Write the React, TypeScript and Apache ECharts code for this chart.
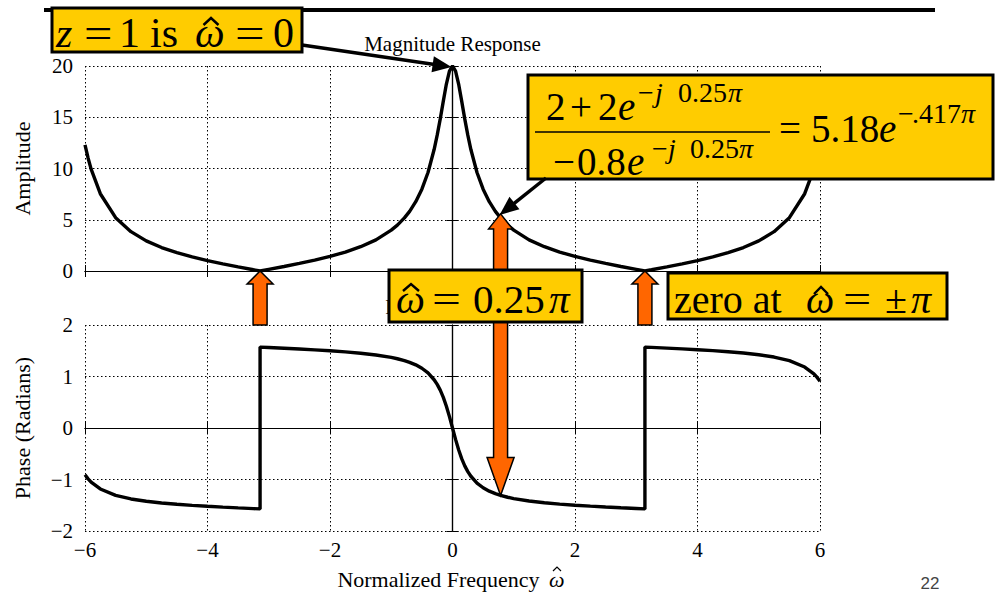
import React, { useEffect, useRef } from 'react';
import * as echarts from 'echarts';

// Frequency response of H(z) = (2 + 2z^-1) / (1 - 0.8z^-1), sampled over -6 .. 6 rad.
// The jump at +/-pi is written as two samples at the same frequency.
const freq = [
  -6, -5.95, -5.9, -5.75, -5.5, -5.25, -5, -4.75, -4.5, -4.25, -4, -3.75, -3.5, -3.25,
  -3.1416, -3.1416,
  -3, -2.75, -2.5, -2.25, -2, -1.75, -1.5, -1.25, -1, -0.9, -0.785, -0.7, -0.6, -0.5,
  -0.4, -0.3, -0.25, -0.2, -0.15, -0.1, -0.05,
  0,
  0.05, 0.1, 0.15, 0.2, 0.25, 0.3, 0.4, 0.5, 0.6, 0.7, 0.785, 0.9, 1, 1.25, 1.5, 1.75,
  2, 2.25, 2.5, 2.75, 3,
  3.1416, 3.1416,
  3.25, 3.5, 3.75, 4, 4.25, 4.5, 4.75, 5, 5.25, 5.5, 5.75, 5.9, 5.95, 6,
];

const amplitude = [
  12.3, 11.03, 9.94, 7.54, 5.2, 3.84, 2.94, 2.29, 1.79, 1.37, 1.02, 0.7, 0.4, 0.12,
  0, 0,
  0.16, 0.44, 0.74, 1.06, 1.42, 1.85, 2.37, 3.04, 3.99, 4.48, 5.18, 5.82, 6.76, 7.98,
  9.61, 11.85, 13.25, 14.84, 16.57, 18.24, 19.51,
  20,
  19.51, 18.24, 16.57, 14.84, 13.25, 11.85, 9.61, 7.98, 6.76, 5.82, 5.18, 4.48, 3.99, 3.04, 2.37, 1.85,
  1.42, 1.06, 0.74, 0.44, 0.16,
  0, 0,
  0.12, 0.4, 0.7, 1.02, 1.37, 1.79, 2.29, 2.94, 3.84, 5.2, 7.54, 9.94, 11.03, 12.3,
];

const phase = [
  -0.909, -0.987, -1.051, -1.184, -1.308, -1.378, -1.423, -1.456, -1.481, -1.502, -1.52, -1.536, -1.551, -1.565,
  -1.571, 1.571,
  1.563, 1.549, 1.534, 1.518, 1.5, 1.478, 1.452, 1.418, 1.37, 1.345, 1.309, 1.275, 1.226, 1.16,
  1.069, 0.937, 0.847, 0.735, 0.595, 0.423, 0.221,
  0,
  -0.221, -0.423, -0.595, -0.735, -0.847, -0.937, -1.069, -1.16, -1.226, -1.275, -1.309, -1.345, -1.37, -1.418, -1.452, -1.478,
  -1.5, -1.518, -1.534, -1.549, -1.563,
  -1.571, 1.571,
  1.565, 1.551, 1.536, 1.52, 1.502, 1.481, 1.456, 1.423, 1.378, 1.308, 1.184, 1.051, 0.987, 0.909,
];

const freqTicks = [-6, -4, -2, 0, 2, 4, 6];
const ampTicks = [0, 5, 10, 15, 20];
const phaseTicks = [-2, -1, 0, 1, 2];

// Evaluated point at w = 0.25*pi: 5.18 e^{-j 0.417 pi}
const markFreq = 0.785;
const markAmp = 5.18;
const markPhase = -1.309;
// Zeros of the numerator at w = +/- pi
const zeroFreqs = [-3.1416, 3.1416];

const SERIF = '"Liberation Serif", "Times New Roman", serif';
const ORANGE = '#FF6600';
const GOLD = '#FFCC00';

const fmtNum = (v: number) => (v < 0 ? '\u2212' + Math.abs(v) : String(v));

function range(ticks: number[]) {
  return { min: ticks[0], max: ticks[ticks.length - 1], interval: ticks[1] - ticks[0] };
}

function frameAxes(gridIndex: number, kind: 'x' | 'y', ticks: number[], showLabels: boolean) {
  const r = range(ticks);
  const common = {
    gridIndex,
    type: 'value' as const,
    ...r,
    axisTick: { show: true, inside: true, length: 6, lineStyle: { color: '#000', width: 1 } },
  };
  const main = {
    ...common,
    position: kind === 'x' ? 'bottom' : 'left',
    axisLine: { show: true, lineStyle: { color: '#000', width: 1.2 } },
    axisLabel: {
      show: showLabels,
      formatter: fmtNum,
      fontFamily: SERIF,
      fontSize: 21,
      color: '#000',
      margin: kind === 'x' ? 8 : 12,
    },
    splitLine: { show: true, lineStyle: { color: '#000', width: 1, type: [1.5, 2.5] } },
  };
  const mirror = {
    ...common,
    position: kind === 'x' ? 'top' : 'right',
    axisLine: { show: true, lineStyle: { color: '#000', width: 1.2 } },
    axisLabel: { show: false },
    splitLine: { show: false },
  };
  return [main, mirror];
}

function blockArrowUp(tx: number, ty: number, tailY: number) {
  const hw = 13, sw = 7, hh = 13;
  return [
    [tx, ty], [tx + hw, ty + hh], [tx + sw, ty + hh], [tx + sw, tailY],
    [tx - sw, tailY], [tx - sw, ty + hh], [tx - hw, ty + hh],
  ];
}

function doubleArrow(tx: number, top: number, bottom: number) {
  const sw = 7;
  return [
    [tx, top], [tx + 12, top + 15], [tx + sw, top + 15], [tx + sw, bottom - 38],
    [tx + 13.5, bottom - 38], [tx, bottom], [tx - 13.5, bottom - 38], [tx - sw, bottom - 38],
    [tx - sw, top + 15], [tx - 12, top + 15],
  ];
}

function lineArrow(x1: number, y1: number, x2: number, y2: number, z: number) {
  const dx = x2 - x1, dy = y2 - y1;
  const L = Math.sqrt(dx * dx + dy * dy);
  const ux = dx / L, uy = dy / L;
  const headLen = 19, headW = 8;
  const bx = x2 - ux * headLen, by = y2 - uy * headLen;
  return [
    { type: 'line', z, shape: { x1, y1, x2: bx + ux * 2, y2: by + uy * 2 }, style: { stroke: '#000', lineWidth: 3.5 } },
    {
      type: 'polygon', z,
      shape: { points: [[x2, y2], [bx - uy * headW, by + ux * headW], [bx + uy * headW, by - ux * headW]] },
      style: { fill: '#000' },
    },
  ];
}

type Run = { t: string; x: number; base: number; size: number; it?: boolean; sx?: number };

// one text element per run, placed on a shared baseline
function runs(items: Run[], z: number) {
  return items.map((r) => {
    const y = r.base - 0.34 * r.size;
    return {
      type: 'text', x: r.x, y, z,
      ...(r.sx ? { scaleX: r.sx, originX: 0, originY: 0 } : {}),
      style: {
        text: r.t,
        fontFamily: SERIF,
        fontSize: r.size,
        fontStyle: r.it ? 'italic' : 'normal',
        fill: '#000',
        align: 'left', verticalAlign: 'middle',
        textAlign: 'left', textVerticalAlign: 'middle',
      },
    };
  });
}

function hat(cx: number, top: number, w: number, h: number, lw: number, z: number) {
  return {
    type: 'polyline', z,
    shape: { points: [[cx - w / 2, top + h], [cx, top], [cx + w / 2, top + h]] },
    style: { stroke: '#000', lineWidth: lw, fill: 'none', lineJoin: 'miter' },
  };
}

function centered(text: string, x: number, y: number, size: number, z: number) {
  return {
    type: 'text', x, y, z,
    style: {
      text, fontFamily: SERIF, fontSize: size, fill: '#000',
      align: 'center', verticalAlign: 'middle', textAlign: 'center', textVerticalAlign: 'middle',
    },
  };
}

function box(x: number, y: number, w: number, h: number, z: number) {
  return {
    type: 'rect', z,
    shape: { x, y, width: w, height: h },
    style: { fill: GOLD, stroke: '#000', lineWidth: 3 },
  };
}

export default function App() {
  const ref = useRef<HTMLDivElement>(null);

  useEffect(() => {
    const chart = echarts.init(ref.current!, null, { renderer: 'svg' });
    const [x0, x0m] = frameAxes(0, 'x', freqTicks, false);
    const [x1, x1m] = frameAxes(1, 'x', freqTicks, true);
    const [y0, y0m] = frameAxes(0, 'y', ampTicks, true);
    const [y1, y1m] = frameAxes(1, 'y', phaseTicks, true);

    chart.setOption({
      animation: false,
      backgroundColor: '#fff',
      grid: [
        { left: 85, top: 66, width: 735, height: 205 },
        { left: 85, top: 325, width: 735, height: 206 },
      ],
      xAxis: [
        x0, x0m,
        {
          ...x1,
          name: 'Normalized Frequency',
          nameLocation: 'middle',
          nameGap: 37,
          nameTextStyle: { fontFamily: SERIF, fontSize: 22, color: '#000', padding: [0, 28, 0, 0] },
        },
        x1m,
      ],
      yAxis: [
        {
          ...y0,
          name: 'Amplitude', nameLocation: 'middle', nameGap: 52, nameRotate: 90,
          nameTextStyle: { fontFamily: SERIF, fontSize: 22, color: '#000' },
        },
        y0m,
        {
          ...y1,
          name: 'Phase (Radians)', nameLocation: 'middle', nameGap: 52, nameRotate: 90,
          nameTextStyle: { fontFamily: SERIF, fontSize: 22, color: '#000' },
        },
        y1m,
      ],
      series: [
        {
          type: 'line', xAxisIndex: 0, yAxisIndex: 0,
          data: freq.map((f, i) => [f, amplitude[i]]),
          showSymbol: false, symbol: 'none',
          lineStyle: { color: '#000', width: 3.4 },
          z: 3,
        },
        {
          type: 'line', xAxisIndex: 2, yAxisIndex: 2,
          data: freq.map((f, i) => [f, phase[i]]),
          showSymbol: false, symbol: 'none',
          lineStyle: { color: '#000', width: 3.4 },
          z: 3,
        },
      ],
    });

    const toPx = (s: number, x: number, y: number) => chart.convertToPixel({ seriesIndex: s }, [x, y]) as number[];
    const peak = toPx(0, 0, amplitude[freq.indexOf(0)]);
    const magMark = toPx(0, markFreq, markAmp);
    const phMark = toPx(1, markFreq, markPhase);
    const phTop = toPx(1, markFreq, phaseTicks[phaseTicks.length - 1]);

    const g: any[] = [];
    // slide title rule
    g.push({ type: 'line', z: 5, shape: { x1: 44, y1: 10, x2: 935, y2: 10 }, style: { stroke: '#000', lineWidth: 4 } });
    g.push(centered('Magnitude Response', peak[0], 44, 21, 10));
    g.push(centered('Phase Response', peak[0], 307, 21, 10));
    g.push({
      type: 'text', x: 930, y: 583, z: 10,
      style: {
        text: '22', fontFamily: '"Liberation Sans Narrow", "Liberation Sans", Arial, sans-serif', fontSize: 17,
        fill: '#444', align: 'center', verticalAlign: 'middle', textAlign: 'center', textVerticalAlign: 'middle',
      },
    });
    // omega-hat after the x axis name
    g.push(...runs([{ t: '\u03C9', x: 549, base: 587, size: 22, it: true }], 10));
    g.push(hat(557, 567, 8, 4, 1.2, 10));

    // orange arrows pointing at the zeros
    zeroFreqs.forEach((zf) => {
      const tip = toPx(0, zf, 0);
      g.push({
        type: 'polygon', z: 20,
        shape: { points: blockArrowUp(tip[0], tip[1], phTop[1]) },
        style: { fill: ORANGE, stroke: '#000', lineWidth: 1.5 },
      });
    });
    g.push({
      type: 'polygon', z: 20,
      shape: { points: doubleArrow(magMark[0], magMark[1] - 4, phMark[1]) },
      style: { fill: ORANGE, stroke: '#000', lineWidth: 1.5 },
    });

    // "z = 1 is w^ = 0"
    g.push(box(52, 8, 250, 44, 30));
    g.push(...runs([
      { t: 'z', x: 56, base: 47, size: 42, it: true },
      { t: '=', x: 84, base: 47, size: 42, sx: 1.2 },
      { t: '1', x: 119, base: 47, size: 42 },
      { t: 'is', x: 150, base: 47, size: 42 },
      { t: '\u03C9', x: 195, base: 47, size: 42, it: true },
      { t: '=', x: 235, base: 47, size: 42, sx: 1.25 },
      { t: '0', x: 273, base: 47, size: 42 },
    ], 31));
    g.push(hat(211, 18, 15, 7, 2.4, 31));

    // H(e^{j0.25pi}) evaluation
    g.push(box(528, 75, 465, 104, 30));
    g.push(...runs([
      { t: '2', x: 546, base: 120, size: 39 },
      { t: '+', x: 570, base: 120, size: 39 },
      { t: '2', x: 598, base: 120, size: 39 },
      { t: 'e', x: 618, base: 120, size: 39, it: true },
      { t: '\u2212', x: 638, base: 102, size: 28 },
      { t: 'j', x: 655, base: 102, size: 28, it: true },
      { t: '0.25', x: 678, base: 102, size: 28 },
      { t: '\u03C0', x: 728, base: 102, size: 28, it: true },
    ], 31));
    g.push({ type: 'line', z: 31, shape: { x1: 535, y1: 132, x2: 770, y2: 132 }, style: { stroke: '#000', lineWidth: 1.6 } });
    g.push(...runs([
      { t: '\u2212', x: 553, base: 175, size: 39 },
      { t: '0.8', x: 577, base: 175, size: 39 },
      { t: 'e', x: 627, base: 175, size: 39, it: true },
      { t: '\u2212', x: 652, base: 158, size: 28 },
      { t: 'j', x: 668, base: 158, size: 28, it: true },
      { t: '0.25', x: 690, base: 158, size: 28 },
      { t: '\u03C0', x: 739, base: 158, size: 28, it: true },
    ], 31));
    g.push(...runs([
      { t: '=', x: 779, base: 142, size: 39 },
      { t: '5.18', x: 811, base: 142, size: 39 },
      { t: 'e', x: 879, base: 142, size: 39, it: true },
      { t: '\u2212', x: 898, base: 123, size: 28 },
      { t: '.417', x: 912, base: 123, size: 28 },
      { t: '\u03C0', x: 961, base: 123, size: 28, it: true },
    ], 31));

    // "w^ = 0.25 pi"
    g.push(box(389, 270, 193, 52, 30));
    g.push(...runs([
      { t: '\u03C9', x: 396, base: 313, size: 41, it: true },
      { t: '=', x: 432, base: 313, size: 41, sx: 1.25 },
      { t: '0.25', x: 473, base: 313, size: 41 },
      { t: '\u03C0', x: 549, base: 313, size: 41, it: true },
    ], 31));
    g.push(hat(411, 284, 16, 7, 2.4, 31));

    // "zero at w^ = +/- pi"
    g.push(box(668, 273, 279, 46, 30));
    g.push(...runs([
      { t: 'zero at', x: 674, base: 313, size: 40 },
      { t: '\u03C9', x: 806, base: 313, size: 40, it: true },
      { t: '=', x: 843, base: 313, size: 40, sx: 1.25 },
      { t: '\u00B1', x: 885, base: 313, size: 40 },
      { t: '\u03C0', x: 911, base: 313, size: 40, it: true },
    ], 31));
    g.push(hat(821, 287, 14, 7, 2.4, 31));

    // black pointer arrows
    g.push(...lineArrow(302, 45, peak[0] - 1, peak[1] + 1, 40));
    g.push(...lineArrow(546, 178, magMark[0] - 1, magMark[1] - 3, 40));

    chart.setOption({ graphic: g });

    return () => chart.dispose();
  }, []);

  return (
    <div
      ref={ref}
      style={{ position: 'fixed', left: 0, top: 0, width: 995, height: 594, background: '#fff' }}
    />
  );
}
